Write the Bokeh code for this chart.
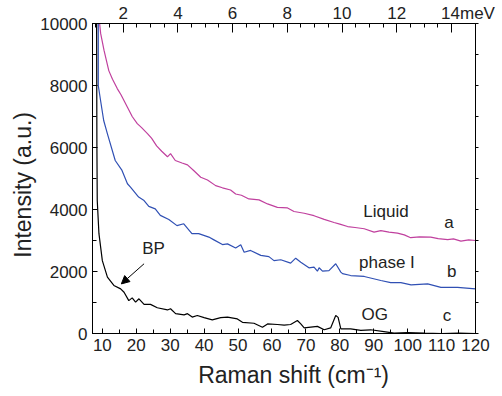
from bokeh.plotting import figure
from bokeh.models import (Range1d, LinearAxis, SingleIntervalTicker, FixedTicker,
                          Arrow, NormalHead, ColumnDataSource, CustomLabelingPolicy)
from bokeh.core.properties import value
from bokeh.embed import file_html
from bokeh.resources import INLINE

# ---- data ----
liquid_x = [9.0, 9.2, 9.5, 10.5, 11.9, 13.0, 14.4, 15.5, 17.4, 18.8, 20.3, 21.5, 23.3, 24.5, 26.0,
            27.5, 29.2, 30.1, 31.5, 33.5, 35.1, 37.0, 39.0, 41.0, 43.4, 45.4, 47.8, 49.3, 51.0,
            53.2, 56.2, 58.7, 61.6, 64.6, 66.5, 69.5, 72.4, 75.4, 78.3, 80.0, 82.3, 84.5, 87.2,
            90.1, 92.1, 94.5, 97.0, 99.0, 100.9, 103.5, 106.8, 109.0, 111.8, 113.5, 115.7, 118.0, 120.0]
liquid_y = [10400, 10000, 9680, 9130, 8480, 8200, 7900, 7700, 7300, 7000, 6770, 6650, 6450, 6300, 6050,
            5880, 5700, 5800, 5580, 5500, 5440, 5250, 5040, 4950, 4770, 4700, 4630, 4500, 4460,
            4340, 4310, 4180, 4070, 4050, 3935, 3880, 3800, 3680, 3580, 3530, 3450, 3420, 3380,
            3270, 3320, 3270, 3240, 3180, 3090, 3120, 3110, 3060, 3030, 3050, 2980, 3020, 3000]

phase_x = [8.8, 8.8, 9.5, 10.4, 11.5, 13.8, 15.8, 17.4, 18.3, 20.7, 22.3, 23.7, 25.6, 27.1, 29.6,
           32.0, 34.0, 36.4, 38.4, 41.4, 42.9, 45.4, 46.9, 49.3, 50.8, 51.8, 53.7, 56.7, 59.1,
           60.6, 62.6, 65.5, 67.0, 68.5, 70.9, 72.4, 73.4, 73.9, 74.9, 76.8, 78.8, 80.3, 80.8,
           83.2, 87.2, 92.1, 95.0, 98.0, 101.0, 105.9, 109.8, 114.7, 120.0]
phase_y = [10400, 8000, 7500, 6870, 6440, 5580, 5260, 4830, 4720, 4400, 4290, 4100, 4020, 3810, 3680,
           3480, 3540, 3220, 3220, 3110, 3020, 2870, 2890, 2760, 2860, 2620, 2680, 2520, 2480,
           2350, 2380, 2270, 2430, 2300, 2120, 2140, 2010, 2120, 2010, 2030, 2250, 1980, 1930,
           1870, 1840, 1710, 1640, 1640, 1570, 1600, 1490, 1490, 1440]

og_x = [8.3, 8.4, 8.5, 9.0, 10.0, 11.5, 13.4, 15.4, 16.4, 17.8, 18.8, 19.8, 20.8, 22.3, 24.2,
        26.2, 29.2, 30.1, 31.6, 34.1, 35.1, 36.5, 38.0, 40.0, 42.4, 44.9, 46.9, 49.8, 51.3,
        54.7, 57.2, 58.7, 61.6, 63.6, 65.5, 67.5, 68.5, 69.5, 73.4, 75.4, 77.3, 78.8, 79.5,
        80.3, 83.2, 86.2, 89.1, 93.0, 96.0, 100.0, 104.9, 110.0, 115.0, 120.0]
og_y = [10400, 6000, 4290, 3220, 2350, 1820, 1550, 1440, 1330, 1060, 1150, 1010, 1120, 940, 940,
        830, 760, 800, 640, 600, 640, 530, 580, 510, 440, 510, 530, 470, 360,
        330, 200, 310, 290, 270, 290, 420, 310, 180, 230, 120, 180, 580, 520,
        150, 150, 100, 120, 60, 10, 30, 10, 0, 10, 0]

x_ticks_interval = 10
y_ticks_interval = 2000
mev_ticks = [2, 4, 6, 8, 10, 12, 14]
mev_minor = [1.0 + 0.5 * i for i in range(27)]
cm_per_mev = 8.0655
mev_unit_text = "meV"

label_text = ["Liquid", "a", "phase I", "b", "OG", "c", "BP"]
label_x = [93.6, 112.2, 93.9, 113.0, 90.3, 111.6, 25.1]
label_y = [3935, 3580, 2290, 2000, 610, 580, 2730]
bp_arrow_start = (22.3, 2250)
bp_arrow_end = (15.6, 1600)

x_min, x_max = 7.1, 120
y_min, y_max = 0, 10000

FONT = "Liberation Sans"
TXT = "#222222"
NBSP = "\u00a0"

p = figure(width=500, height=392, x_range=Range1d(x_min, x_max), y_range=Range1d(y_min, y_max),
           output_backend="svg", toolbar_location=None,
           min_border_left=92, min_border_right=25, min_border_top=23, min_border_bottom=59)
p.extra_x_ranges = {"mev": Range1d(x_min / cm_per_mev, x_max / cm_per_mev)}
p.grid.visible = False
p.outline_line_color = "black"
p.background_fill_color = "white"
p.border_fill_color = "white"

def style_axis(ax, major_in=5, minor_in=4, major_out=0, minor_out=0):
    ax.axis_line_color = "black"
    ax.axis_line_width = 1
    ax.major_tick_line_color = "black"
    ax.minor_tick_line_color = "black"
    ax.major_tick_in = major_in
    ax.major_tick_out = major_out
    ax.minor_tick_in = minor_in
    ax.minor_tick_out = minor_out
    ax.major_label_text_font = FONT
    ax.major_label_text_font_size = "17px"
    ax.major_label_text_color = TXT
    ax.axis_label_text_font = FONT
    ax.axis_label_text_font_size = "23px"
    ax.axis_label_text_font_style = "normal"
    ax.axis_label_text_color = TXT

xa = p.xaxis[0]
xa.ticker = SingleIntervalTicker(interval=x_ticks_interval, num_minor_ticks=2)
style_axis(xa)
xa.axis_label = NBSP * 3 + "Raman shift (cm\u207b\u00b9)"
xa.major_label_standoff = 5
xa.axis_label_standoff = 8

ya = p.yaxis[0]
ya.ticker = SingleIntervalTicker(interval=y_ticks_interval, num_minor_ticks=2)
style_axis(ya)
ya.axis_label = "Intensity (a.u.)" + NBSP * 2
ya.major_label_standoff = 5
ya.axis_label_standoff = 1

# last top label carries the unit; non-breaking spaces keep the number centred on its tick
top = LinearAxis(x_range_name="mev", ticker=FixedTicker(ticks=mev_ticks, minor_ticks=mev_minor),
                 major_label_overrides={mev_ticks[-1]: NBSP * 7 + str(mev_ticks[-1]) + mev_unit_text})
style_axis(top, major_in=9, minor_in=4)
top.major_label_standoff = 1
p.add_layout(top, "above")

right = LinearAxis(ticker=SingleIntervalTicker(interval=1000, num_minor_ticks=0),
                   major_label_policy=CustomLabelingPolicy(
                       code="for (const i of indices) { if (false) yield i }"))
style_axis(right, major_in=0, major_out=3, minor_in=0)
right.major_label_text_font_size = "0px"
right.major_label_standoff = 0
p.add_layout(right, "right")

p.line(liquid_x, liquid_y, line_color="#c0409e", line_width=1.2)
p.line(phase_x, phase_y, line_color="#3050b4", line_width=1.2)
p.line(og_x, og_y, line_color="black", line_width=1.2)

src = ColumnDataSource(dict(x=label_x, y=label_y, t=label_text))
p.text(x="x", y="y", text="t", source=src, text_font=value(FONT), text_font_size=value("17px"),
       text_align="center", text_baseline="middle", text_color=TXT)

p.add_layout(Arrow(end=NormalHead(size=8, fill_color="black", line_color="black"),
                   x_start=bp_arrow_start[0], y_start=bp_arrow_start[1],
                   x_end=bp_arrow_end[0], y_end=bp_arrow_end[1], line_width=1, line_color="black"))

open("out.html", "w").write(file_html(p, INLINE))
